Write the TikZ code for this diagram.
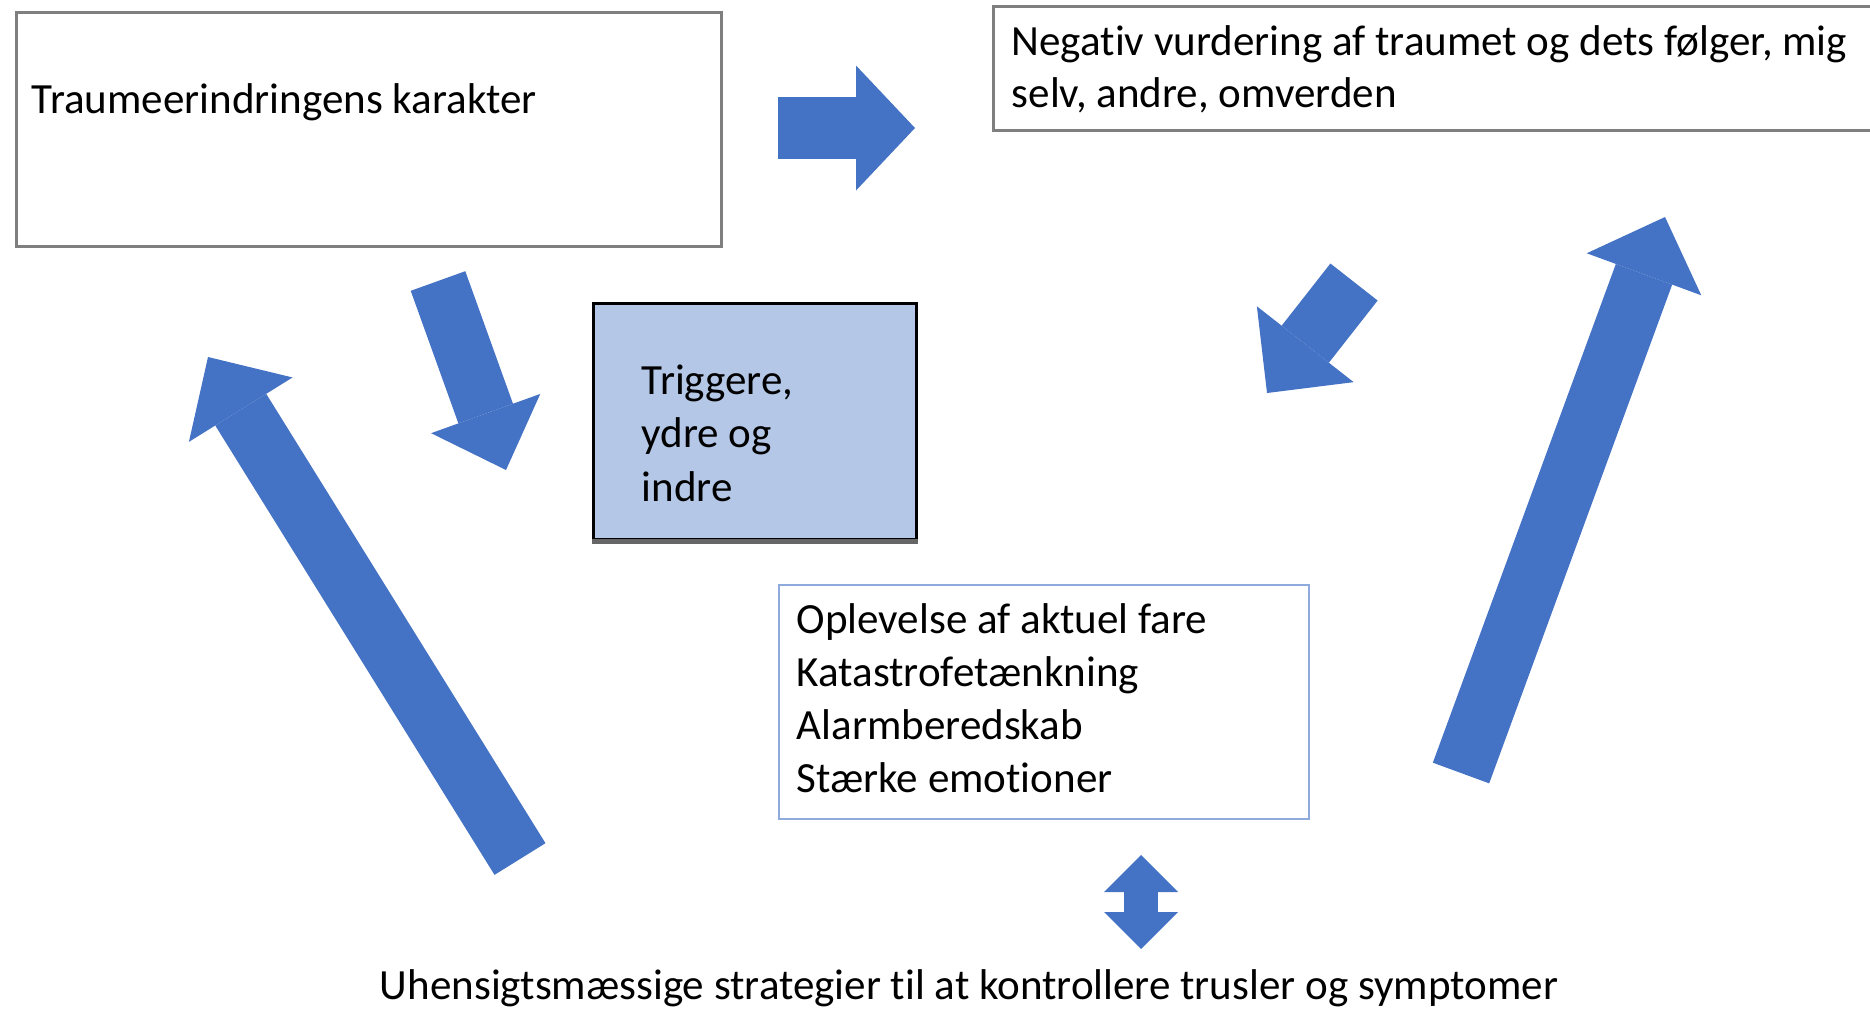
\documentclass[tikz,border=0pt]{standalone}
\usepackage{fontspec}
\setmainfont{Carlito}[Ligatures=NoCommon]
\usetikzlibrary{arrows.meta}

\definecolor{shapeblue}{HTML}{4472C4}
\definecolor{paleblue}{HTML}{B4C7E7}
\definecolor{edgeblue}{HTML}{8FAADC}
\definecolor{edgegray}{HTML}{7F7F7F}

\tikzset{
  box/.style={draw=edgegray, line width=0.3mm, fill=white, inner sep=0pt, anchor=north west},
  txt/.style={align=left, inner sep=0pt, anchor=base west, font=\fontsize{12.25pt}{14.9pt}\selectfont},
  fat/.style n args={3}{draw=shapeblue, line width=#1, -{Triangle[length=#2, width=#3, line width=0pt]}},
  fatboth/.style n args={3}{draw=shapeblue, line width=#1,
    {Triangle[length=#2, width=#3, line width=0pt]}-{Triangle[length=#2, width=#3, line width=0pt]}}
}

\begin{document}
\begin{tikzpicture}[x=0.1mm, y=-0.1mm]
    \useasboundingbox (0,0) rectangle (1870,1009);

    % boxes
    \node[box, minimum width=70.5mm, minimum height=23.4mm] (memory) at (15,11) {};
    \node[box, minimum width=88.8mm, minimum height=12.4mm] (appraisal) at (992,5) {};
    \node[box, draw=black, fill=paleblue, minimum width=32.3mm, minimum height=23.6mm] (triggers) at (592,302) {};
    \draw[draw=black!60, line width=0.5mm] (triggers.south west) -- (triggers.south east);
    \node[box, draw=edgeblue, line width=0.2mm, minimum width=53mm, minimum height=23.4mm] (threat) at (778,584) {};

    % texts (multi-line: placed by the last baseline)
    \node[txt] (memorytxt) at ([xshift=1.6mm, yshift=-10.2mm]memory.north west) {Traumeerindringens karakter};
    \node[txt] (appraisaltxt) at ([xshift=1.9mm, yshift=-10.25mm]appraisal.north west)
        {Negativ vurdering af traumet og dets følger, mig\\selv, andre, omverden};
    \node[txt] (triggerstxt) at ([xshift=4.9mm, yshift=-19.9mm]triggers.north west)
        {Triggere,\\[0.1mm]ydre og\\[0.1mm]indre};
    \node[txt] (threattxt) at ([xshift=1.8mm, yshift=-20.8mm]threat.north west)
        {Oplevelse af aktuel fare\\[0.05mm]Katastrofetænkning\\[0.05mm]Alarmberedskab\\[0.05mm]Stærke emotioner};
    \node[txt, anchor=base] (strategies) at (969,999)
        {Uhensigtsmæssige strategier til at kontrollere trusler og symptomer};

    % block arrows
    \coordinate (a1s) at (778,128);  \coordinate (a1e) at (915,128);
    \coordinate (a2s) at (438,281);  \coordinate (a2e) at (506,470);
    \coordinate (a3s) at (1354,282); \coordinate (a3e) at (1267,393);
    \coordinate (a4s) at (520,859);  \coordinate (a4e) at (208,357);
    \coordinate (a5s) at (1461,773); \coordinate (a5e) at (1665,217);
    \coordinate (a6s) at (1141,855); \coordinate (a6e) at (1141,949);

    \draw[fat={6.25mm}{5.9mm}{12.5mm}] (a1s) -- (a1e);
    \draw[fat={5.8mm}{6mm}{11.6mm}] (a2s) -- (a2e);
    \draw[fat={6mm}{6.2mm}{12.3mm}] (a3s) -- (a3e);
    \draw[fat={6mm}{6.2mm}{12.2mm}] (a4s) -- (a4e);
    \draw[fat={6mm}{6.1mm}{12.2mm}] (a5s) -- (a5e);
    \draw[fatboth={3.4mm}{3.7mm}{7.4mm}] (a6s) -- (a6e);
\end{tikzpicture}
\end{document}
